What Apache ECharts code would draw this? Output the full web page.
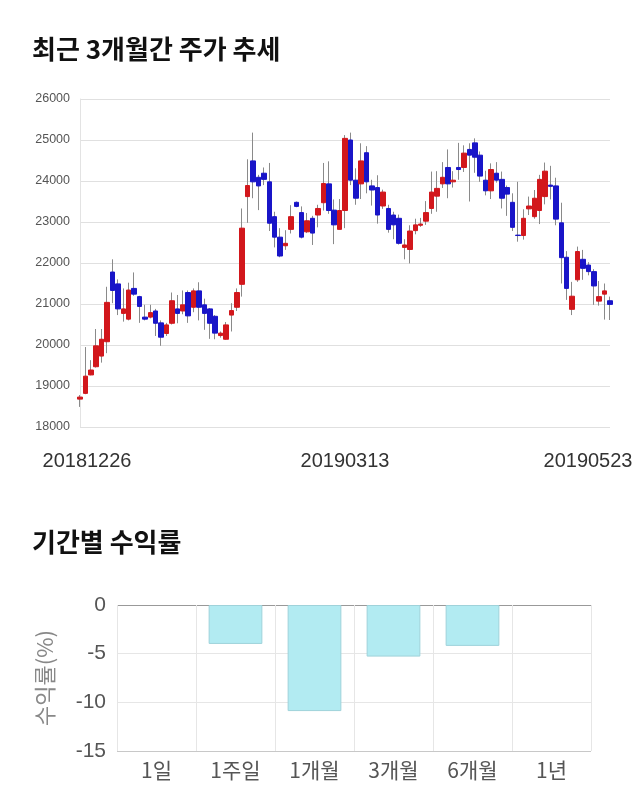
<!DOCTYPE html>
<html>
<head>
<meta charset="utf-8">
<script src="https://cdn.jsdelivr.net/npm/echarts@6/dist/echarts.min.js"></script>
<style>
  html, body { margin: 0; padding: 0; background: #ffffff; }
  #chart { width: 640px; height: 810px; }
</style>
</head>
<body>
<div id="chart"></div>
<script>
// ---- Candlestick data (trading days 2018-12-26 .. 2019-05-23) ----
const dates = [
  '20181226','20181227','20181228',
  '20190102','20190103','20190104','20190107','20190108','20190109','20190110','20190111',
  '20190114','20190115','20190116','20190117','20190118','20190121','20190122','20190123','20190124','20190125',
  '20190128','20190129','20190130','20190131',
  '20190201','20190207','20190208','20190211','20190212','20190213','20190214','20190215',
  '20190218','20190219','20190220','20190221','20190222','20190225','20190226','20190227','20190228',
  '20190304','20190305','20190306','20190307','20190308','20190311','20190312','20190313','20190314','20190315',
  '20190318','20190319','20190320','20190321','20190322','20190325','20190326','20190327','20190328','20190329',
  '20190401','20190402','20190403','20190404','20190405','20190408','20190409','20190410','20190411','20190412',
  '20190415','20190416','20190417','20190418','20190419','20190422','20190423','20190424','20190425','20190426',
  '20190429','20190430',
  '20190502','20190503','20190507','20190508','20190509','20190510',
  '20190513','20190514','20190515','20190516','20190517','20190520','20190521','20190522','20190523'
];
const opens = [
  18680,18820,19270,19470,19730,20080,21780,21490,20770,20630,
  21380,21180,20680,20680,20830,20540,20280,20530,20880,20830,
  21280,20920,21320,20980,20880,20700,20230,20140,20730,20920,
  21480,23620,24490,24090,24190,23980,23130,22630,22420,22820,
  23480,23230,22760,23090,23170,23470,23930,23290,22820,23280,
  25000,24020,23930,24690,23880,23840,23390,23330,23170,23090,
  22380,22330,22790,22920,23020,23330,23630,23930,24330,23980,
  24330,24330,24770,24930,24630,24020,23760,24190,24040,23840,
  23480,22680,22670,23320,23130,23280,23620,23900,23880,22980,
  22140,20870,21590,22090,21950,21790,21070,21240,21080
];
const closes = [
  18730,19240,19390,19980,20140,21040,21330,20880,20880,21340,
  21240,20940,20630,20790,20530,20190,20490,21080,20770,20980,
  20710,21320,20920,20770,20530,20290,20290,20490,20840,21280,
  22850,23890,23980,23880,24040,22970,22630,22170,22480,23130,
  23380,22630,23030,22730,23330,23940,23280,22930,23280,25040,
  24020,23580,24490,23980,23780,23170,23730,22820,22930,22480,
  22440,22780,22930,22950,23230,23730,23820,24090,23930,24020,
  24280,24680,24630,24580,24120,23760,24280,24020,23580,23680,
  22870,22670,23090,23390,23580,24040,24240,23870,23070,22130,
  21380,21190,22280,21870,21790,21440,21180,21320,20990
];
const lows = [
  18490,18800,19260,19450,19570,19800,21020,20730,20570,20600,
  21200,20540,20600,20650,20220,19980,20220,20500,20530,20750,
  20540,20800,20600,20370,20150,20140,20180,20130,20330,20830,
  21180,22980,23580,23290,23900,22780,22380,22140,22320,22720,
  23360,22600,22730,22440,22870,23280,23200,22460,22820,22850,
  23900,23420,23560,23700,23400,22960,23320,22740,22580,22450,
  22090,21990,22700,22880,22930,23200,23250,23830,23580,23840,
  24030,24220,23500,24200,23980,23650,23560,23960,23330,23150,
  22780,22520,22570,23170,23080,22950,23430,23550,22920,21500,
  21100,20730,21540,21590,21700,20980,20960,20620,20610
];
const highs = [
  18780,19950,19630,20390,20390,21420,22090,21600,21380,21520,
  21770,21200,20980,20980,20880,20600,20540,21280,21220,21330,
  21330,21380,21530,21130,20900,20730,20330,20560,21020,21380,
  23330,24530,25180,24150,24330,24440,23250,22850,22800,23410,
  23500,23380,23220,23150,23420,24440,24480,23550,23560,25120,
  25180,24310,24920,24850,24030,24140,23790,23420,23250,23180,
  22580,22920,23080,23100,23510,24230,24240,24460,24770,24240,
  24930,24870,24920,25040,24720,24250,24430,24460,24230,23890,
  23700,23980,23310,23620,23780,24150,24450,24370,24080,23470,
  22290,21540,22400,22320,22020,21850,21560,21500,21180
];
const priceTicks = { min: 18000, max: 26000, step: 1000 };
const shownDateIdx = [0, 49, 98];

// ---- Returns bar chart data ----
const periods = ['1일', '1주일', '1개월', '3개월', '6개월', '1년'];
const returns = [0, -4.0, -10.9, -5.3, -4.2, 0];
const returnTicks = { min: -15, max: 0, step: 5 };

// ---- Build series data ----
const wickData = dates.map((d, i) => [opens[i], closes[i], lows[i], highs[i]]);
const bodyData = dates.map((d, i) => [opens[i], closes[i], Math.min(opens[i], closes[i]), Math.max(opens[i], closes[i])]);
const xData = dates.map((d, i) => i === dates.length - 1
  ? { value: d, textStyle: { padding: [0, 44, 0, 0] } }
  : (i === 0 ? { value: d, textStyle: { padding: [0, 0, 0, 14] } } : d));
const barData = returns.map(v => (v === 0 ? '-' : v));

const RED = '#d2171c';
const BLUE = '#1915c8';
const FONT = '"Liberation Sans", Arial, sans-serif';
const KFONT = '"Noto Sans CJK KR", "Liberation Sans", sans-serif';

const chart = echarts.init(document.getElementById('chart'), null, { renderer: 'canvas' });
chart.setOption({
  animation: false,
  backgroundColor: '#ffffff',
  title: [
    { text: '최근 3개월간 주가 추세', left: 27, top: 31,
      textStyle: { fontFamily: KFONT, fontSize: 26, fontWeight: 'bold', color: '#111' } },
    { text: '기간별 수익률', left: 27, top: 524,
      textStyle: { fontFamily: KFONT, fontSize: 26, fontWeight: 'bold', color: '#111' } }
  ],
  grid: [
    { left: 80, right: 30, top: 99, height: 328 },
    { left: 117, right: 49, top: 605, height: 146 }
  ],
  xAxis: [
    {
      gridIndex: 0, type: 'category', data: xData, boundaryGap: false,
      axisLine: { show: false }, axisTick: { show: false },
      splitLine: { show: false },
      axisLabel: {
        interval: (idx) => shownDateIdx.indexOf(idx) >= 0,
        fontFamily: FONT, fontSize: 20, color: '#333', margin: 24
      }
    },
    {
      gridIndex: 1, type: 'category', data: periods,
      axisLine: { show: false }, axisTick: { show: false },
      splitLine: { show: true, lineStyle: { color: '#e6e6e6' } },
      axisLabel: { fontFamily: KFONT, fontSize: 21, color: '#555', margin: 9 }
    }
  ],
  yAxis: [
    {
      gridIndex: 0, type: 'value', min: priceTicks.min, max: priceTicks.max, interval: priceTicks.step,
      axisLine: { show: true, lineStyle: { color: '#e3e3e3' } }, axisTick: { show: false },
      splitLine: { show: true, lineStyle: { color: '#e0e0e0' } },
      axisLabel: { fontFamily: FONT, fontSize: 12.5, color: '#555', margin: 10, formatter: (v) => String(v) }
    },
    {
      gridIndex: 1, type: 'value', min: returnTicks.min, max: returnTicks.max, interval: returnTicks.step,
      axisLine: { show: false }, axisTick: { show: false },
      splitLine: { show: true, lineStyle: { color: ['#c8c8c8', '#e6e6e6', '#e6e6e6', '#999999'] } },
      axisLabel: { fontFamily: FONT, fontSize: 21, color: '#555', margin: 11 },
      name: '수익률(%)', nameLocation: 'middle', nameGap: 61, nameRotate: 90,
      nameTextStyle: { fontFamily: KFONT, fontSize: 22, color: '#888' }
    }
  ],
  series: [
    {
      type: 'candlestick', xAxisIndex: 0, yAxisIndex: 0, data: wickData, barWidth: 1,
      itemStyle: { color: '#8a8a8a', color0: '#8a8a8a', borderColor: '#8a8a8a', borderColor0: '#8a8a8a', borderWidth: 1 }
    },
    {
      type: 'candlestick', xAxisIndex: 0, yAxisIndex: 0, data: bodyData, barWidth: 5,
      itemStyle: { color: RED, color0: BLUE, borderColor: RED, borderColor0: BLUE, borderWidth: 1 }
    },
    {
      type: 'bar', xAxisIndex: 1, yAxisIndex: 1, data: barData, barWidth: '68%',
      itemStyle: { color: '#b2ebf2', borderColor: '#9fd2da', borderWidth: 1 }
    }
  ]
});
</script>
</body>
</html>
